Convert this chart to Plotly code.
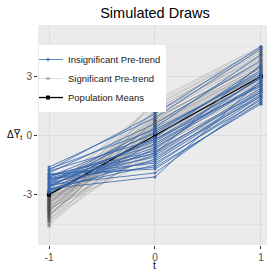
import plotly.graph_objects as go

t_vals = [-1, 0, 1]
mean_vals = [-3.0, 0.0, 3.0]

blue_m1 = [-1.6, -1.7, -1.8, -1.9, -2.0, -2.0, -2.1, -2.1, -2.2, -2.2, -2.3, -2.3, -2.4, -2.4,
           -2.5, -2.5, -2.6, -2.6, -2.7, -2.7, -2.8, -2.8, -2.9, -1.75, -2.15, -2.45, -1.95, -2.55]
blue_0 = [0.9, 0.3, -0.2, 0.6, -0.8, -1.4, 0.1, -0.5, -1.1, -1.6, -0.3, -0.9, 0.4, -1.3,
          -0.6, -1.9, -1.0, -0.1, -1.5, -2.1, -0.7, -1.2, -0.4, 1.1, -0.9, 0.2, -1.7, -0.2]
blue_1 = [4.4, 3.1, 2.5, 3.8, 2.2, 1.8, 3.3, 2.7, 2.0, 1.6, 2.9, 2.4, 4.1, 2.1,
          2.6, 1.9, 2.3, 3.5, 2.0, 2.8, 3.0, 2.2, 2.6, 4.5, 3.6, 3.2, 1.7, 2.9]

gray_m1 = [-2.7, -2.8, -2.9, -3.0, -3.0, -3.1, -3.1, -3.2, -3.2, -3.3, -3.3, -3.4, -3.4, -3.5, -3.5,
           -3.6, -3.6, -3.7, -3.7, -3.8, -3.8, -3.9, -3.9, -4.0, -4.0, -4.1, -4.2, -4.3, -4.4, -4.6,
           -2.75, -2.85, -2.95, -3.05, -3.15, -3.25, -3.35, -3.45, -3.55, -3.65, -3.75, -3.85, -3.95, -4.05, -4.15,
           -4.25, -4.35, -4.5, -3.0, -3.3, -3.6, -2.9, -3.2, -3.5, -3.8, -4.1, -3.4, -3.7, -3.1, -2.8]
gray_0 = [0.5, -0.3, 1.2, 0.1, 0.8, -0.9, 0.4, 1.5, -0.2, 0.7, 0.0, 1.0, -0.6, 0.3, 1.7,
          0.9, -0.1, 0.6, -1.2, 1.1, 0.2, -0.4, 1.4, 0.5, -0.8, 0.8, 0.0, 1.3, -0.5, 0.4,
          1.6, 0.3, -0.7, 0.9, 0.1, 1.2, -0.3, 0.6, -1.0, 0.2, 1.0, 0.7, -0.2, 0.5, 1.8,
          -0.6, 0.3, 0.9, 1.1, -0.1, 0.4, 0.6, -0.4, 1.3, 0.0, 0.8, 0.2, -0.9, 0.7, 1.5]
gray_1 = [3.4, 2.6, 4.1, 2.9, 3.7, 2.0, 3.1, 4.4, 2.4, 3.5, 2.8, 3.9, 2.2, 3.0, 4.5,
          3.6, 2.5, 3.3, 1.7, 4.0, 2.7, 2.3, 4.2, 3.2, 1.9, 3.8, 2.6, 4.3, 2.1, 3.0,
          4.4, 2.9, 2.0, 3.7, 2.8, 4.0, 2.4, 3.4, 1.8, 3.1, 3.9, 3.5, 2.5, 3.3, 4.5,
          2.2, 3.0, 3.6, 4.1, 2.6, 3.2, 3.4, 2.3, 4.2, 2.7, 3.8, 2.9, 1.6, 3.5, 4.3]

x_ticks = [-1, 0, 1]
y_ticks = [-3, 0, 3]

BLUE = "rgba(52,101,172,0.8)"
GRAYL = "rgba(100,100,100,0.22)"
GRAYM = "rgba(70,70,70,0.5)"

fig = go.Figure()

for i, (a, b, c) in enumerate(zip(gray_m1, gray_0, gray_1)):
    fig.add_trace(go.Scatter(
        x=t_vals, y=[a, b, c], mode="lines+markers",
        line=dict(color=GRAYL, width=1),
        marker=dict(symbol="triangle-up", size=4, color=GRAYM),
        name="Significant Pre-trend", legendgroup="sig",
        showlegend=(i == 0), legendrank=2, hoverinfo="skip"))

fig.add_trace(go.Scatter(
    x=t_vals, y=mean_vals, mode="lines+markers",
    line=dict(color="black", width=1.3),
    marker=dict(symbol="square", size=4, color="black"),
    name="Population Means", legendrank=3))

for i, (a, b, c) in enumerate(zip(blue_m1, blue_0, blue_1)):
    fig.add_trace(go.Scatter(
        x=t_vals, y=[a, b, c], mode="lines+markers",
        line=dict(color=BLUE, width=1),
        marker=dict(symbol="circle", size=3, color=BLUE),
        name="Insignificant Pre-trend", legendgroup="insig",
        showlegend=(i == 0), legendrank=1, hoverinfo="skip"))

fig.update_layout(
    width=267, height=271,
    margin=dict(l=38, r=0, t=25, b=26, autoexpand=False),
    paper_bgcolor="white", plot_bgcolor="#EBEBEB",
    font=dict(family="Liberation Sans, Arial, sans-serif", size=10, color="#4D4D4D"),
    title=dict(text="Simulated Draws", x=155 / 267, xanchor="center", y=1 - 13 / 271, yanchor="middle",
               font=dict(size=14.5, color="black")),
    showlegend=True,
    legend=dict(x=1 / 229, y=0.909, xanchor="left", yanchor="top", bgcolor="white",
                indentation=-11,
                font=dict(size=9.5, color="#1A1A1A"), tracegroupgap=0, itemwidth=30),
    xaxis=dict(range=[-1.104, 1.057], tickvals=x_ticks, ticktext=[str(v) for v in x_ticks],
               showgrid=True, gridcolor="#DCDCDC", gridwidth=1, zeroline=False, automargin=False,
               ticks="outside", ticklen=3, tickcolor="#333333"),
    yaxis=dict(range=[-5.55, 5.6], tickvals=y_ticks, ticktext=[str(v) for v in y_ticks],
               showgrid=True, gridcolor="#DCDCDC", gridwidth=1, zeroline=False, automargin=False,
               minor=dict(tickvals=[-4.5, -1.5, 1.5, 4.5], showgrid=True, gridcolor="#E2E2E2", gridwidth=0.6),
               ticks="outside", ticklen=3, tickcolor="#333333"),
    annotations=[
        dict(text="ΔY̅<sub>t</sub>", xref="paper", yref="y", x=-0.06, y=0, xanchor="right",
             yanchor="middle", showarrow=False, font=dict(size=10, color="black")),
        dict(text="t", xref="x", yref="paper", x=0, y=0, yshift=-14, xanchor="center",
             yanchor="top", showarrow=False, borderpad=0, font=dict(size=10, color="black")),
    ],
)

fig.write_html("out.html", config={"displayModeBar": False},
               post_script="document.body.style.margin='0';document.body.style.overflow='hidden';")
